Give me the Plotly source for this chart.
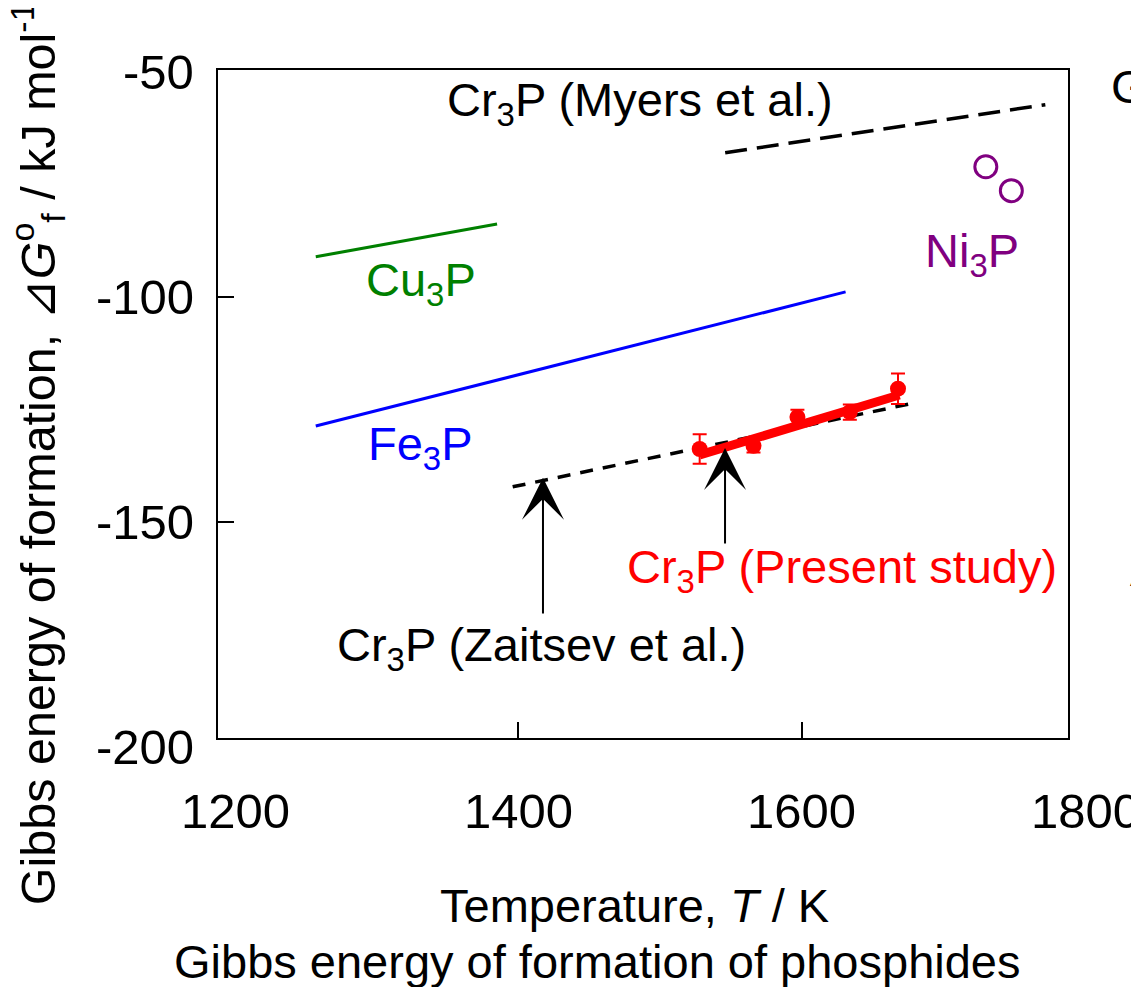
import plotly.graph_objects as go

# ---------------- data ----------------
cu3p_T = [1257, 1385]
cu3p_G = [-91.1, -83.8]

fe3p_T = [1257, 1631]
fe3p_G = [-128.7, -98.9]

myers_T = [1546, 1772]
myers_G = [-68.0, -57.3]

zaitsev_T = [1396, 1676]
zaitsev_G = [-142.2, -123.8]

present_fit_T = [1528, 1669]
present_fit_G = [-135.1, -121.8]

present_T = [1528, 1566, 1597, 1634, 1668]
present_G = [-133.8, -133.1, -126.7, -125.6, -120.4]
present_err = [3.3, 1.5, 1.6, 1.7, 3.4]

ni3p_T = [1730, 1748]
ni3p_G = [-71.1, -76.4]

x_tick_vals = [1200, 1400, 1600, 1800]
x_tick_text = ["1200", "1400", "1600", "1800"]
y_tick_vals = [-50, -100, -150, -200]
y_tick_text = ["-50", "-100", "-150", "-200"]

FONT = "Liberation Sans, Arial, sans-serif"
X_RANGE = [1188, 1788]
Y_RANGE = [-198, -49.6]


def xpaper(v):
    return (v - X_RANGE[0]) / (X_RANGE[1] - X_RANGE[0])


def ypaper(v):
    return (v - Y_RANGE[0]) / (Y_RANGE[1] - Y_RANGE[0])


fig = go.Figure()

fig.add_trace(go.Scatter(x=cu3p_T, y=cu3p_G, mode="lines",
                         line=dict(color="#008000", width=3)))
fig.add_trace(go.Scatter(x=fe3p_T, y=fe3p_G, mode="lines",
                         line=dict(color="#0000ff", width=3)))
fig.add_trace(go.Scatter(x=myers_T, y=myers_G, mode="lines",
                         line=dict(color="black", width=3.5, dash="22px,10px")))
fig.add_trace(go.Scatter(x=zaitsev_T, y=zaitsev_G, mode="lines",
                         line=dict(color="black", width=3.5, dash="13px,10px")))
fig.add_trace(go.Scatter(x=present_fit_T, y=present_fit_G, mode="lines",
                         line=dict(color="#ff0000", width=9)))
fig.add_trace(go.Scatter(x=present_T, y=present_G, mode="markers",
                         marker=dict(color="#ff0000", size=16),
                         error_y=dict(type="data", array=present_err, visible=True,
                                      color="#ff0000", thickness=2, width=7)))
fig.add_trace(go.Scatter(x=ni3p_T, y=ni3p_G, mode="markers",
                         marker=dict(symbol="circle-open", color="#800080", size=22,
                                     line=dict(width=3, color="#800080"))))

ann = []
# series labels
labels = [
    ("Cr<sub>3</sub>P (Myers et al.)", 1486, -56.9, "black"),
    ("Cu<sub>3</sub>P", 1331, -96.9, "#008000"),
    ("Fe<sub>3</sub>P", 1331, -133.3, "#0000ff"),
    ("Ni<sub>3</sub>P", 1720, -90.4, "#800080"),
    ("Cr<sub>3</sub>P (Present study)", 1628.5, -160.7, "#ff0000"),
    ("Cr<sub>3</sub>P (Zaitsev et al.)", 1416.7, -178.0, "black"),
]
for txt, x, y, c in labels:
    ann.append(dict(x=x, y=y, xref="x", yref="y", text=txt, showarrow=False,
                    xanchor="center", yanchor="middle",
                    font=dict(family=FONT, size=47, color=c)))

# arrows
arrows = [(1417.4, -140.2, -170.7), (1545.9, -133.6, -155.1)]
for x, ytip, ytail in arrows:
    ann.append(dict(x=x, y=ytip, ax=x, ay=ytail, xref="x", yref="y",
                    axref="x", ayref="y", text="", showarrow=True,
                    arrowhead=3, arrowsize=3.5, arrowwidth=2, arrowcolor="black",
                    standoff=0, startstandoff=0))

# tick labels
for v, t in zip(x_tick_vals, x_tick_text):
    ann.append(dict(x=xpaper(v), y=-0.109, xref="paper", yref="paper", text=t,
                    showarrow=False, xanchor="center", yanchor="middle",
                    font=dict(family=FONT, size=49, color="black")))
for v, t in zip(y_tick_vals, y_tick_text):
    ann.append(dict(x=-0.026, y=ypaper(v), xref="paper", yref="paper", text=t,
                    showarrow=False, xanchor="right", yanchor="middle",
                    font=dict(family=FONT, size=49, color="black")))

# axis titles and caption
ann.append(dict(x=0.49, y=-0.25, xref="paper", yref="paper",
                xanchor="center", yanchor="middle",
                text="Temperature, <i>T</i> / K", showarrow=False,
                font=dict(family=FONT, size=47, color="black")))
ann.append(dict(x=0.446, y=-0.335, xref="paper", yref="paper",
                xanchor="center", yanchor="middle",
                text="Gibbs energy of formation of phosphides", showarrow=False,
                font=dict(family=FONT, size=47, color="black")))
ann.append(dict(x=-0.212, y=0.426, xref="paper", yref="paper", textangle=-90,
                xanchor="center", yanchor="middle",
                text="Gibbs energy of formation, \u22bf<i>G</i><sup>o</sup><sub>f</sub> / kJ mol<sup>-1</sup>",
                showarrow=False,
                font=dict(family=FONT, size=48.5, color="black")))

# clipped texts at right edge
ann.append(dict(x=1.048, y=0.976, xref="paper", yref="paper", text="G",
                showarrow=False, xanchor="left", yanchor="middle",
                font=dict(family=FONT, size=47, color="black")))
ann.append(dict(x=1.071, y=0.2515, xref="paper", yref="paper", text="A",
                showarrow=False, xanchor="left", yanchor="middle",
                font=dict(family=FONT, size=47, color="black")))

# page body has an 8px default margin: size the figure to fit the window
fig.update_layout(
    width=1131, height=979,
    margin=dict(l=210, r=71, t=62, b=249),
    paper_bgcolor="white", plot_bgcolor="white",
    showlegend=False,
    annotations=ann,
    font=dict(family=FONT, color="black"),
)
fig.update_xaxes(range=X_RANGE, showgrid=False, zeroline=False,
                 showline=True, mirror=True, linecolor="black", linewidth=2,
                 ticks="inside", tickvals=[1400, 1600], ticklen=16, tickwidth=2,
                 tickcolor="black", showticklabels=False)
fig.update_yaxes(range=Y_RANGE, showgrid=False, zeroline=False,
                 showline=True, mirror=True, linecolor="black", linewidth=2,
                 ticks="inside", tickvals=[-100, -150], ticklen=16, tickwidth=2,
                 tickcolor="black", showticklabels=False)

fig.write_html("out.html")
